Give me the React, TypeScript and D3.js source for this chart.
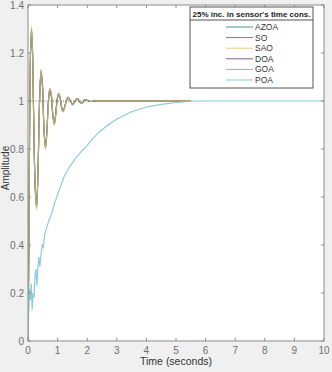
import React from "react";
import * as d3 from "d3";

const W = 332;
const H = 372;

const seriesNames = ["AZOA", "SO", "SAO", "DOA", "GOA", "POA"];
const seriesColors = ["#4f8f9c", "#b9694e", "#ecc982", "#8a5c98", "#aab274", "#86c9de"];

const xTicks = [0, 1, 2, 3, 4, 5, 6, 7, 8, 9, 10];
const yTicks = [0, 0.2, 0.4, 0.6, 0.8, 1, 1.2, 1.4];
const yTickLabels = ["0", "0.2", "0.4", "0.6", "0.8", "1", "1.2", "1.4"];

const tOsc = [0, 0.02, 0.04, 0.06, 0.09, 0.12, 0.15, 0.19, 0.24, 0.29, 0.34, 0.39, 0.44, 0.49, 0.54, 0.59, 0.64, 0.69, 0.74, 0.79, 0.84, 0.89, 0.94, 0.99, 1.04, 1.09, 1.14, 1.19, 1.27, 1.35, 1.43, 1.51, 1.59, 1.67, 1.75, 1.83, 1.91, 1.99, 2.1, 2.3, 3.0, 4.0, 5.5];

const azoa = [0, 0.25, 0.62, 0.95, 1.21, 1.28, 1.21, 0.95, 0.66, 0.56, 0.72, 1.0, 1.12, 1.06, 0.88, 0.81, 0.88, 1.0, 1.05, 1.02, 0.94, 0.91, 0.95, 1.01, 1.03, 1.01, 0.97, 0.96, 0.99, 1.015, 1.0, 0.985, 1.0, 1.01, 0.995, 0.99, 1.005, 1.003, 0.998, 1.0, 1.0, 1.0, 1.0];
const so = [0, 0.27, 0.64, 0.97, 1.23, 1.3, 1.22, 0.94, 0.65, 0.55, 0.71, 1.0, 1.13, 1.07, 0.88, 0.8, 0.87, 1.0, 1.05, 1.02, 0.94, 0.9, 0.95, 1.01, 1.03, 1.01, 0.97, 0.955, 0.99, 1.015, 1.0, 0.985, 1.0, 1.01, 0.995, 0.99, 1.005, 1.003, 0.998, 1.0, 1.0, 1.0, 1.0];
const sao = [0, 0.28, 0.66, 0.98, 1.24, 1.31, 1.23, 0.95, 0.64, 0.55, 0.7, 0.99, 1.13, 1.07, 0.89, 0.8, 0.87, 0.99, 1.05, 1.03, 0.95, 0.9, 0.94, 1.0, 1.03, 1.015, 0.975, 0.955, 0.985, 1.015, 1.005, 0.985, 0.995, 1.01, 1.0, 0.99, 1.0, 1.004, 0.998, 1.0, 1.0, 1.0, 1.0];
const doa = [0, 0.26, 0.63, 0.96, 1.22, 1.29, 1.22, 0.95, 0.65, 0.56, 0.72, 1.0, 1.12, 1.06, 0.88, 0.81, 0.88, 1.0, 1.05, 1.02, 0.94, 0.91, 0.95, 1.01, 1.03, 1.01, 0.97, 0.96, 0.99, 1.015, 1.0, 0.985, 1.0, 1.01, 0.995, 0.99, 1.005, 1.003, 0.998, 1.0, 1.0, 1.0, 1.0];
const goa = [0, 0.27, 0.65, 0.97, 1.23, 1.3, 1.22, 0.94, 0.65, 0.56, 0.71, 0.99, 1.125, 1.065, 0.885, 0.805, 0.875, 0.995, 1.05, 1.025, 0.945, 0.905, 0.945, 1.005, 1.03, 1.012, 0.972, 0.957, 0.988, 1.015, 1.002, 0.985, 0.998, 1.01, 0.998, 0.99, 1.003, 1.003, 0.998, 1.0, 1.0, 1.0, 1.0];

const tPoa = [0, 0.02, 0.05, 0.08, 0.11, 0.14, 0.17, 0.2, 0.24, 0.27, 0.3, 0.34, 0.37, 0.4, 0.44, 0.48, 0.52, 0.56, 0.6, 0.7, 0.8, 0.9, 1.0, 1.1, 1.2, 1.4, 1.6, 1.8, 2.0, 2.2, 2.4, 2.7, 3.0, 3.5, 4.0, 4.5, 5.0, 5.5, 6.0, 10.0];
const poa = [0.02, 0.1, 0.22, 0.17, 0.24, 0.13, 0.2, 0.18, 0.28, 0.3, 0.23, 0.32, 0.35, 0.31, 0.36, 0.4, 0.39, 0.44, 0.46, 0.5, 0.53, 0.575, 0.61, 0.645, 0.68, 0.725, 0.76, 0.79, 0.815, 0.845, 0.87, 0.9, 0.925, 0.955, 0.975, 0.986, 0.994, 0.999, 1.0, 1.0];

const refLineX = [0, 2.3];
const refLineY = [1, 1];

const legendTitle = "25% inc. in sensor's time cons.";

export default function App() {
  const left = 28;
  const right = 324;
  const top = 5;
  const bottom = 341;

  const x = d3.scaleLinear().domain([0, 10]).range([left, right]);
  const y = d3.scaleLinear().domain([0, 1.4]).range([bottom, top]);

  const oscLine = d3
    .line<[number, number]>()
    .x((d) => x(d[0]))
    .y((d) => y(d[1]))
    .curve(d3.curveCatmullRom.alpha(0.5));
  const linLine = d3
    .line<[number, number]>()
    .x((d) => x(d[0]))
    .y((d) => y(d[1]));

  const oscSeries = [azoa, so, sao, doa, goa];
  const oscPaths = oscSeries.map((vals) => oscLine(tOsc.map((t, i) => [t, vals[i]] as [number, number])) || "");
  const poaPath = linLine(tPoa.map((t, i) => [t, poa[i]] as [number, number])) || "";
  const refPath = linLine(refLineX.map((t, i) => [t, refLineY[i]] as [number, number])) || "";

  const font = "'Liberation Sans', Arial, sans-serif";
  const tickColor = "#6e6e6e";
  const axisColor = "#8c8c8c";

  const lgX = 190;
  const lgY = 7;
  const lgW = 123;
  const lgH = 81;

  return (
    <div style={{ position: "absolute", left: 0, top: 0 }}>
      <svg width={W} height={H} style={{ display: "block" }}>
        <rect x={0} y={0} width={W} height={H} fill="#f0f0f0" />
        <rect x={left} y={top} width={right - left} height={bottom - top} fill="#ffffff" />
        <defs>
          <clipPath id="plotclip">
            <rect x={left} y={top} width={right - left} height={bottom - top} />
          </clipPath>
        </defs>
        <g clipPath="url(#plotclip)" fill="none" strokeWidth={1}>
          {oscPaths.map((p, i) => (
            <path key={i} d={p} stroke={seriesColors[i]} strokeWidth={1.1} />
          ))}
          <path d={refPath} stroke="#4d5d4d" strokeDasharray="1,1.5" strokeWidth={0.9} />
          <path d={poaPath} stroke={seriesColors[5]} strokeWidth={1.1} />
        </g>
        <rect x={left} y={top} width={right - left} height={bottom - top} fill="none" stroke={axisColor} strokeWidth={1} />
        {xTicks.map((t) => (
          <g key={"x" + t}>
            <line x1={x(t)} x2={x(t)} y1={bottom} y2={bottom - 3} stroke={axisColor} />
            <line x1={x(t)} x2={x(t)} y1={top} y2={top + 3} stroke={axisColor} />
            <text x={x(t)} y={bottom + 13} textAnchor="middle" fontSize={10} fontFamily={font} fill={tickColor}>
              {t}
            </text>
          </g>
        ))}
        {yTicks.map((t, i) => (
          <g key={"y" + t}>
            <line x1={left} x2={left + 3} y1={y(t)} y2={y(t)} stroke={axisColor} />
            <line x1={right} x2={right - 3} y1={y(t)} y2={y(t)} stroke={axisColor} />
            <text x={left - 4} y={y(t) + 3.5} textAnchor="end" fontSize={10} fontFamily={font} fill={tickColor}>
              {yTickLabels[i]}
            </text>
          </g>
        ))}
        <text x={(left + right) / 2} y={bottom + 24} textAnchor="middle" fontSize={10.5} fontFamily={font} fill="#333">
          Time (seconds)
        </text>
        <text
          transform={`translate(9, 168) rotate(-90)`}
          textAnchor="middle"
          fontSize={10}
          fontFamily={font}
          fill="#333"
        >
          Amplitude
        </text>
        <rect x={lgX} y={lgY} width={lgW} height={lgH} fill="#ffffff" stroke="#555" strokeWidth={1} />
        <line x1={lgX} x2={lgX + lgW} y1={lgY + 13} y2={lgY + 13} stroke="#555" strokeWidth={1} />
        <text x={lgX + lgW / 2} y={lgY + 10} textAnchor="middle" fontSize={8} fontWeight="bold" fontFamily={font} fill="#222">
          {legendTitle}
        </text>
        {seriesNames.map((n, i) => {
          const yy = lgY + 20 + i * 10.6;
          return (
            <g key={n}>
              <line x1={226} x2={253} y1={yy} y2={yy} stroke={seriesColors[i]} strokeWidth={1} />
              <text x={255} y={yy + 3} fontSize={8.5} fontFamily={font} fill="#333">
                {n}
              </text>
            </g>
          );
        })}
      </svg>
    </div>
  );
}
